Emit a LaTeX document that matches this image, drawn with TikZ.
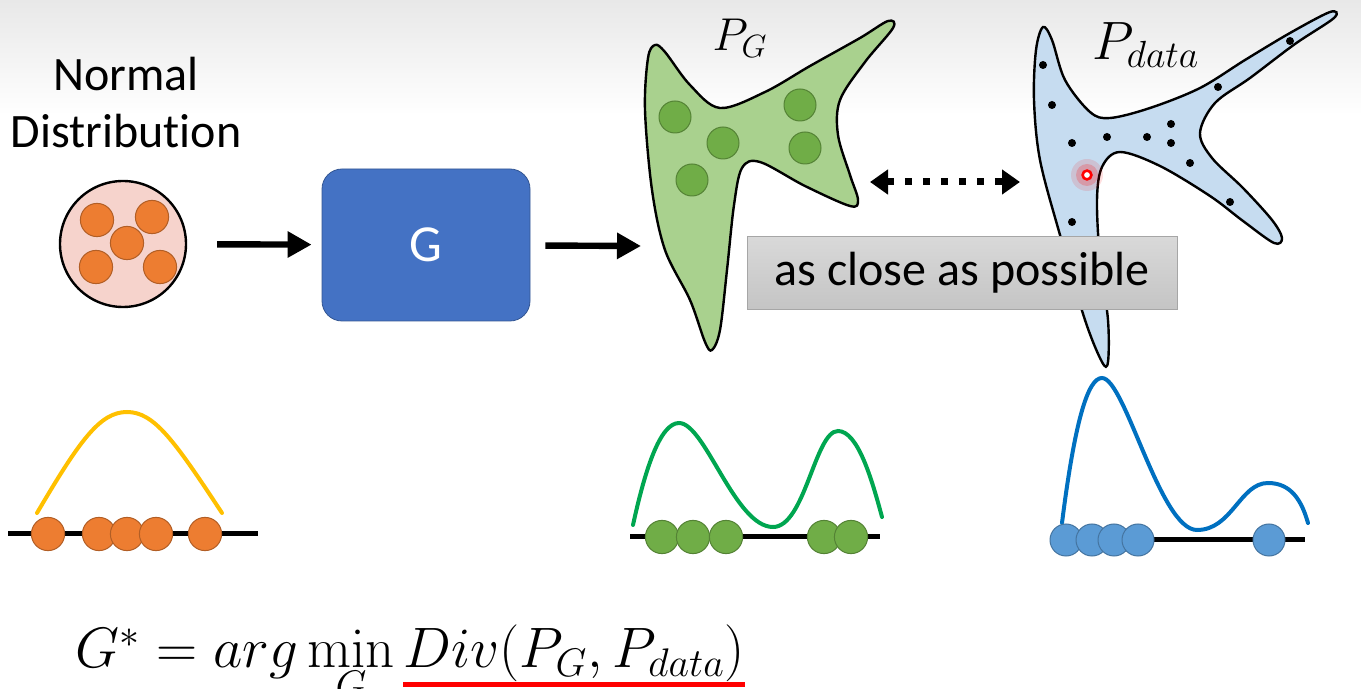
\RequirePackage{fix-cm}
\documentclass[tikz,border=0pt]{standalone}
\usepackage[no-math]{fontspec}
\setmainfont{Carlito}[Ligatures=NoCommon]
\usetikzlibrary{arrows.meta,positioning,shapes}

%Couleurs
\definecolor{pinkfill}{HTML}{F6D3CC}
\definecolor{dotorange}{HTML}{ED7D31}
\definecolor{dotgreen}{HTML}{70AD47}
\definecolor{dotblue}{HTML}{5B9BD5}
\definecolor{curveorange}{HTML}{FFC000}
\definecolor{curvegreen}{HTML}{00A650}
\definecolor{curveblue}{HTML}{0070C0}
\definecolor{blobgreen}{HTML}{A9D18E}
\definecolor{blobblue}{HTML}{C6DCF0}
\definecolor{genblue}{HTML}{4472C4}

\begin{document}
\begin{tikzpicture}[x=0.5pt,y=-0.5pt,
  bigarrow/.style={line width=3.2pt,-{Triangle[length=12pt,width=12.5pt]}},
  dotarrow/.style={line width=3.5pt,dash pattern=on 3.5pt off 5.5pt,
    {Triangle[length=9pt,width=12pt]}-{Triangle[length=9pt,width=12pt]}},
  genbox/.style={draw=genblue!75!black,fill=genblue,rounded corners=10pt,
    minimum width=104pt,minimum height=76pt,text=white,font=\fontsize{26}{30}\selectfont},
  closebox/.style={draw=black!35,top color=black!15,bottom color=black!23,
    minimum width=215pt,minimum height=36.5pt,font=\fontsize{24}{28}\selectfont},
  orangedot/.style={fill=dotorange,draw=dotorange!75!black,line width=0.5pt},
  greendot/.style={fill=dotgreen,draw=dotgreen!75!black,line width=0.5pt},
  bluedot/.style={fill=dotblue,draw=dotblue!75!black,line width=0.5pt},
  axisline/.style={black,line width=2.5pt},
  density/.style={line width=2pt,line cap=round}]

\useasboundingbox (0,0) rectangle (1361,689);

%Fond
\shade[top color=black!9,bottom color=white] (0,0) rectangle (1361,115);

%%% Distribution normale %%%
\node[align=center,font=\fontsize{24}{28.5}\selectfont] (normlabel) at (126,103) {Normal\\Distribution};
\node[circle,draw,line width=1.2pt,fill=pinkfill,minimum size=63pt] (noise) at (123,244) {};
\foreach \px/\py in {97/220,152/217,127/243,96/267,160/267}
  \filldraw[orangedot] (\px,\py) circle (8.3pt);

%Generateur
\node[genbox] (gen) at (426,245) {G};
\coordinate (pgin) at (641,246);
\draw[bigarrow,shorten <=15pt,shorten >=5pt] (noise) -- (gen);
\draw[bigarrow,shorten <=7.5pt] (gen) -- (pgin);

%%% P_G %%%
\filldraw[fill=blobgreen,draw=black,line width=1.2pt] plot[smooth cycle,tension=0.55] coordinates {
  (648,58) (655,45) (665,52) (690,85) (720,108) (765,92) (810,66) (860,38) (888,21) (893,28)
  (865,62) (840,100) (838,135) (850,175) (858,200) (850,206) (805,186) (760,162) (742,168)
  (734,205) (727,270) (720,330) (712,350) (705,342) (690,300) (665,250) (652,190) (645,110)};
\foreach \px/\py in {675/117,723/143,692/180,800/105,805/148}
  \filldraw[greendot] (\px,\py) circle (8pt);
\node[font=\fontsize{23}{27}\selectfont] (pglabel) at (740,38) {$P_G$};

%%% P_data %%%
\filldraw[fill=blobblue,draw=black,line width=1.2pt] plot[smooth cycle,tension=0.55] coordinates {
  (1036,50) (1043,27) (1052,40) (1065,80) (1090,112) (1110,118) (1150,108) (1200,88) (1245,60)
  (1290,33) (1330,12) (1334,18) (1295,44) (1250,78) (1215,103) (1200,133) (1212,158) (1243,188)
  (1272,220) (1282,238) (1274,243) (1243,221) (1210,196) (1160,166) (1120,152) (1102,167)
  (1097,200) (1100,260) (1108,320) (1108,362) (1102,362) (1085,320) (1060,235) (1040,160) (1034,100)};
\foreach \px/\py in {1043/65,1052/105,1072/143,1107/137,1147/137,1171/124,1171/143,1190/163,1218/87,1290/41,1230/202,1072/222}
  \fill (\px,\py) circle (2pt);
%Point rouge
\fill[red,opacity=0.12] (1087,175) circle (8pt);
\fill[red,opacity=0.2] (1087,175) circle (5.5pt);
\filldraw[fill=white,draw=red,line width=1.3pt] (1087,175) circle (2.2pt);
\node[font=\fontsize{27}{31}\selectfont] (pdlabel) at (1146,45) {$P_{data}$};

%Comparaison
\coordinate (pgright) at (870,182);
\coordinate (pdleft) at (1020,182);
\draw[dotarrow] (pgright) -- (pdleft);
\node[closebox] (close) at (962,273) {as close as possible};

%%% Densites %%%
\draw[axisline] (8,534) -- (258,534);
\draw[density,curveorange] (37,513) .. controls (80,440) and (100,412) .. (127,412)
  .. controls (154,412) and (174,440) .. (222,513);
\foreach \px in {48,99,127,156,205}
  \filldraw[orangedot] (\px,534) circle (8.3pt);

\draw[axisline] (630,537) -- (880,537);
\draw[density,curvegreen] (633,525) .. controls (645,470) and (660,423) .. (679,423)
  .. controls (705,423) and (735,527) .. (773,527)
  .. controls (805,527) and (815,431) .. (838,431)
  .. controls (858,431) and (872,480) .. (882,517);
\foreach \px in {662,693,726,824,851}
  \filldraw[greendot] (\px,537) circle (8.3pt);

\draw[axisline] (1060,540) -- (1305,540);
\draw[density,curveblue] (1062,523) .. controls (1075,420) and (1088,378) .. (1102,378)
  .. controls (1125,378) and (1160,530) .. (1197,530)
  .. controls (1232,530) and (1240,483) .. (1268,483)
  .. controls (1292,483) and (1302,502) .. (1308,523);
\foreach \px in {1066,1092,1114,1138,1269}
  \filldraw[bluedot] (\px,540) circle (8pt);

%%% Objectif %%%
\node[anchor=base west,inner sep=0pt,font=\fontsize{28.5}{32}\selectfont] (argmin) at (75,668) {$G^* = arg\min\limits_G$};
\node[inner sep=0pt,font=\fontsize{28.5}{32}\selectfont,right=4pt of argmin.base east,anchor=base west] (div) {$Div(P_G,P_{data})$};
\draw[red,line width=2.5pt] ([yshift=-1pt]div.south west) -- ([yshift=-1pt]div.south east);

\end{tikzpicture}
\end{document}
